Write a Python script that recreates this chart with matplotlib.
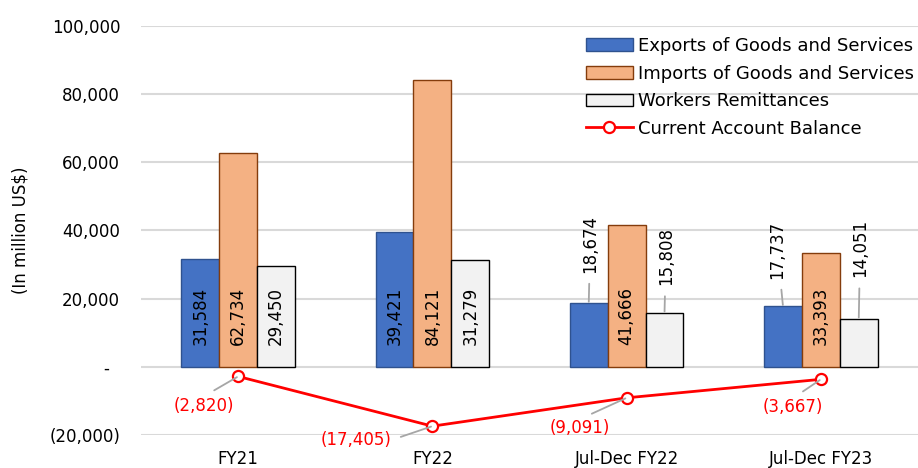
import matplotlib.pyplot as plt
import numpy as np

plt.rcParams['font.family'] = ['DejaVu Sans']

categories = ['FY21', 'FY22', 'Jul-Dec FY22', 'Jul-Dec FY23']
exports = [31584, 39421, 18674, 17737]
imports = [62734, 84121, 41666, 33393]
remittances = [29450, 31279, 15808, 14051]
cab = [-2820, -17405, -9091, -3667]

yticks = [-20000, 0, 20000, 40000, 60000, 80000, 100000]
ytick_labels = ['(20,000)', '-  ', '20,000', '40,000', '60,000', '80,000', '100,000']


def fmt(v):
    return f'({abs(v):,})' if v < 0 else f'{v:,}'


fig = plt.figure(figsize=(9.18, 4.68), dpi=100)
ax = fig.add_axes([0.1536, 0.0705, 0.8464, 0.874])

x = np.arange(len(categories))
w = 0.195

b1 = ax.bar(x - w, exports, w, color='#4472C4', edgecolor='#2F528F', linewidth=1, zorder=2,
            label='Exports of Goods and Services')
b2 = ax.bar(x, imports, w, color='#F4B183', edgecolor='#843C0C', linewidth=1, zorder=2,
            label='Imports of Goods and Services')
b3 = ax.bar(x + w, remittances, w, color='#F2F2F2', edgecolor='#000000', linewidth=1, zorder=2,
            label='Workers Remittances')
ln, = ax.plot(x, cab, color='#FF0000', lw=2, marker='o', ms=8, mfc='white', mec='#FF0000',
              mew=1.6, zorder=4, label='Current Account Balance')

leader = dict(arrowstyle='-', color='#A6A6A6', lw=1.3, shrinkA=2, shrinkB=1)

# labels inside the bars (first two groups + imports everywhere)
inside_y = 15000
for i in range(len(categories)):
    ax.text(x[i], inside_y, fmt(imports[i]), rotation=90, ha='center', va='center',
            fontsize=12, zorder=5)
    if i < 2:
        ax.text(x[i] - w, inside_y, fmt(exports[i]), rotation=90, ha='center', va='center',
                fontsize=12, zorder=5)
        ax.text(x[i] + w, inside_y, fmt(remittances[i]), rotation=90, ha='center', va='center',
                fontsize=12, zorder=5)

# labels above the bars with leader lines (half-year groups)
above = [(2, -w, exports, (1, 22)), (2, w, remittances, (1, 20)),
         (3, -w, exports, (-4, 20)), (3, w, remittances, (1, 30))]
for i, off, series, xyt in above:
    ax.annotate(fmt(series[i]), xy=(x[i] + off, series[i]), xytext=xyt,
                textcoords='offset points', rotation=90, ha='center', va='bottom',
                fontsize=12, arrowprops=dict(leader, shrinkA=6), zorder=5)

# current account balance labels
cab_offsets = [(-25, -21), (-55, -10), (-34, -22), (-20, -20)]
cab_relpos = [(0.5, 1), (1, 0.5), (0.5, 1), (0.5, 1)]
for i, xyt in enumerate(cab_offsets):
    ax.annotate(fmt(cab[i]), xy=(x[i], cab[i]), xytext=xyt, textcoords='offset points',
                ha='center', va='center', fontsize=12, color='#FF0000',
                arrowprops=dict(leader, relpos=cab_relpos[i], shrinkA=5), zorder=5)

ax.set_xlim(-0.5, 3.5)
ax.set_ylim(-20000, 100000)
ax.set_yticks(yticks)
ax.set_yticklabels(ytick_labels)
ax.set_xticks(x)
ax.set_xticklabels(categories)
ax.tick_params(axis='y', length=0, pad=15, labelsize=12)
ax.tick_params(axis='x', length=0, pad=11, labelsize=12)
ax.grid(axis='y', color='#D9D9D9', lw=1.5, zorder=0)
ax.set_axisbelow(True)
for s in ax.spines.values():
    s.set_visible(False)
ax.set_ylabel('(In million US$)', fontsize=12, labelpad=14)

ax.legend(handles=[b1, b2, b3, ln], loc='upper left', bbox_to_anchor=(586 / 918, 1 - 37 / 468),
          bbox_transform=fig.transFigure, frameon=False, fontsize=13, borderpad=0,
          borderaxespad=0, handlelength=2.6, handletextpad=0.3, labelspacing=0.53)

plt.savefig('out.png', dpi=100)
